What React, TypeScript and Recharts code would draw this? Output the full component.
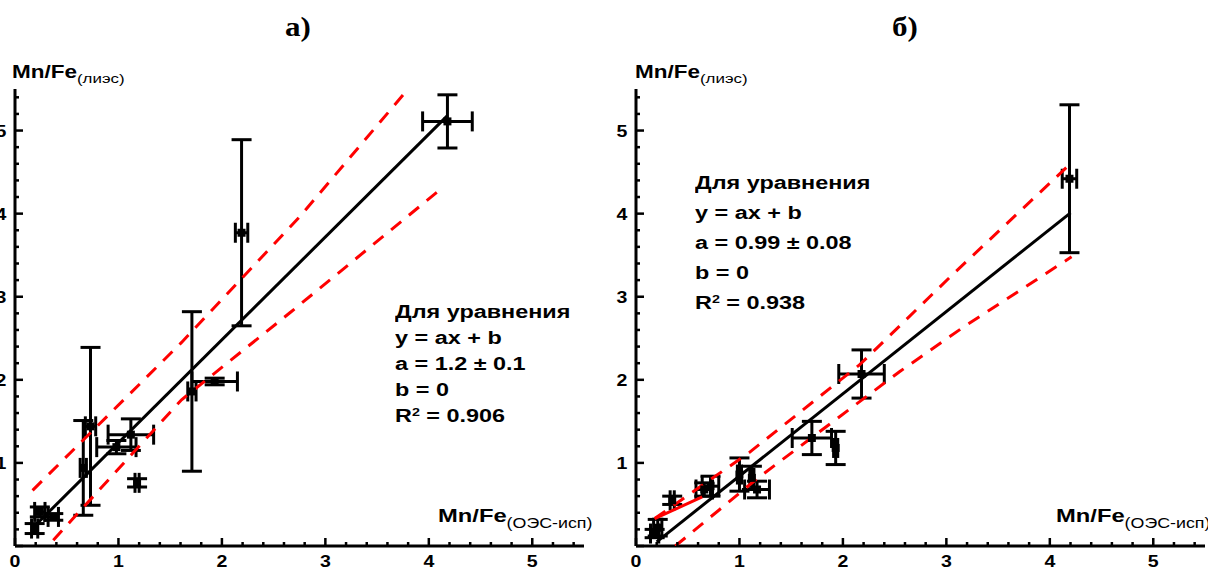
import React from 'react';
import { ScatterChart, Scatter, XAxis, YAxis, ZAxis, ErrorBar } from 'recharts';

// minor ticks every 0.2, labels on integers only
const axisTicks = [0, 0.2, 0.4, 0.6, 0.8, 1, 1.2, 1.4, 1.6, 1.8, 2, 2.2, 2.4, 2.6, 2.8, 3, 3.2, 3.4, 3.6, 3.8, 4, 4.2, 4.4, 4.6, 4.8, 5, 5.2, 5.4];
const xLabels = [0, 1, 2, 3, 4, 5];
const yLabels = [1, 2, 3, 4, 5];

// panel а) — points with errors
const pointsA = [
  { x: 0.19, y: 0.21, ex: 0.03, ey: 0.06 },
  { x: 0.24, y: 0.41, ex: 0.05, ey: 0.06 },
  { x: 0.37, y: 0.35, ex: 0.05, ey: 0.04 },
  { x: 0.66, y: 0.94, ex: 0.03, ey: 0.57 },
  { x: 0.73, y: 1.44, ex: 0.05, ey: 0.95 },
  { x: 0.98, y: 1.19, ex: 0.19, ey: 0.08 },
  { x: 1.12, y: 1.34, ex: 0.22, ey: 0.19 },
  { x: 1.18, y: 0.76, ex: 0.02, ey: 0.05 },
  { x: 1.71, y: 1.86, ex: 0.04, ey: 0.96 },
  { x: 1.93, y: 1.98, ex: 0.22, ey: 0.04 },
  { x: 2.19, y: 3.77, ex: 0.06, ey: 1.12 },
  { x: 4.18, y: 5.11, ex: 0.24, ey: 0.32 },
];
const fitA = [
  { x: 0.19, y: 0.24 },
  { x: 4.18, y: 5.18 },
];
const upperA = [
  { x: 0.17, y: 0.67 },
  { x: 1.61, y: 2.45 },
  { x: 2.75, y: 3.96 },
  { x: 3.8, y: 5.5 },
];
const lowerA = [
  { x: 0.37, y: 0.07 },
  { x: 1.61, y: 1.76 },
  { x: 2.66, y: 2.81 },
  { x: 4.15, y: 4.33 },
];

// panel б)
const pointsB = [
  { x: 0.18, y: 0.15, ex: 0.04, ey: 0.05 },
  { x: 0.21, y: 0.22, ex: 0.04, ey: 0.1 },
  { x: 0.35, y: 0.55, ex: 0.02, ey: 0.05 },
  { x: 0.66, y: 0.68, ex: 0.08, ey: 0.08 },
  { x: 0.72, y: 0.72, ex: 0.08, ey: 0.12 },
  { x: 1.0, y: 0.86, ex: 0.02, ey: 0.2 },
  { x: 1.12, y: 0.82, ex: 0.02, ey: 0.14 },
  { x: 1.17, y: 0.68, ex: 0.12, ey: 0.1 },
  { x: 1.7, y: 1.3, ex: 0.19, ey: 0.2 },
  { x: 1.93, y: 1.18, ex: 0.02, ey: 0.2 },
  { x: 2.18, y: 2.07, ex: 0.22, ey: 0.29 },
  { x: 4.19, y: 4.42, ex: 0.07, ey: 0.89 },
];
const fitB = [
  { x: 0.2, y: 0.05 },
  { x: 4.2, y: 4.01 },
];
const upperB = [
  { x: 0.18, y: 0.33 },
  { x: 1.1, y: 1.13 },
  { x: 2.16, y: 2.18 },
  { x: 3.08, y: 3.29 },
  { x: 4.19, y: 4.59 },
];
const lowerB = [
  { x: 0.38, y: 0.0 },
  { x: 1.18, y: 0.82 },
  { x: 2.55, y: 2.1 },
  { x: 3.16, y: 2.63 },
  { x: 4.21, y: 3.48 },
];
const redSegB = [
  { x: 0.18, y: 0.33 },
  { x: 0.64, y: 0.59 },
];

const sans = '"Liberation Sans", Arial, sans-serif';
const serif = '"Liberation Serif", "Times New Roman", serif';

const XTick = (props: any) => {
  const { x, y, payload } = props;
  const v = payload.value;
  const major = xLabels.includes(v);
  return (
    <g>
      <line x1={x} x2={x} y1={y} y2={y - (major ? 8 : 4)} stroke="#000" strokeWidth={2.5} />
      {major && (
        <text x={0} y={0} transform={`translate(${x},${y + 21}) scale(1.15,1)`} textAnchor="middle"
          fontFamily={sans} fontWeight="bold" fontSize={17} fill="#000">
          {v}
        </text>
      )}
    </g>
  );
};

const YTick = (props: any) => {
  const { x, y, payload } = props;
  const v = payload.value;
  const major = Number.isInteger(v);
  return (
    <g>
      <line x1={x} x2={x + (major ? 8 : 4)} y1={y} y2={y} stroke="#000" strokeWidth={2.5} />
      {yLabels.includes(v) && (
        <text x={0} y={0} transform={`translate(${x - 14},${y + 6}) scale(1.15,1)`} textAnchor="middle"
          fontFamily={sans} fontWeight="bold" fontSize={17} fill="#000">
          {v}
        </text>
      )}
    </g>
  );
};

const noDot = () => <g />;

function Panel({ points, fit, upper, lower, extra, width, axisWidth, marginRight }: any) {
  return (
    <ScatterChart width={width} height={571} margin={{ top: 89, right: marginRight, bottom: 1, left: 0 }}>
      <XAxis type="number" dataKey="x" domain={[0, 5.5]} ticks={axisTicks} interval={0} height={24}
        tickLine={false} tickSize={0} tickMargin={0} tick={<XTick />} allowDataOverflow
        axisLine={{ stroke: '#000', strokeWidth: 3 }} />
      <YAxis type="number" dataKey="y" domain={[0, 5.5]} ticks={axisTicks} interval={0} width={axisWidth}
        tickLine={false} tickSize={0} tickMargin={0} tick={<YTick />} allowDataOverflow
        axisLine={{ stroke: '#000', strokeWidth: 3 }} />
      <ZAxis type="number" range={[80, 80]} />
      <Scatter data={upper} shape={noDot} line={{ stroke: '#ff0000', strokeWidth: 3, strokeDasharray: '13 10' }} isAnimationActive={false} />
      <Scatter data={lower} shape={noDot} line={{ stroke: '#ff0000', strokeWidth: 3, strokeDasharray: '13 10' }} isAnimationActive={false} />
      {extra && (
        <Scatter data={extra} shape={noDot} line={{ stroke: '#ff0000', strokeWidth: 3 }} isAnimationActive={false} />
      )}
      <Scatter data={fit} shape={noDot} line={{ stroke: '#000', strokeWidth: 3 }} isAnimationActive={false} />
      <Scatter data={points} shape="square" fill="#000" isAnimationActive={false}>
        <ErrorBar dataKey="ey" direction="y" width={10} stroke="#000" strokeWidth={3} />
        <ErrorBar dataKey="ex" direction="x" width={10} stroke="#000" strokeWidth={3} />
      </Scatter>
    </ScatterChart>
  );
}

const abs = (left: number, top: number): React.CSSProperties => ({ position: 'absolute', left, top });

function AxisLabel({ left, top, sub, size }: { left: number; top: number; sub: string; size: number }) {
  return (
    <div style={{ ...abs(left, top), fontFamily: sans, whiteSpace: 'nowrap', transform: 'scaleX(1.25)', transformOrigin: 'left top', lineHeight: 1 }}>
      <span style={{ fontSize: size, fontWeight: 'bold' }}>Mn/Fe</span>
      <span style={{ fontSize: size * 0.75, position: 'relative', top: size * 0.3 }}>{sub}</span>
    </div>
  );
}

function Note({ left, top, lh, a, r2 }: { left: number; top: number; lh: number; a: string; r2: string }) {
  return (
    <div style={{ ...abs(left, top), fontFamily: sans, fontWeight: 'bold', fontSize: 18, lineHeight: `${lh}px`, whiteSpace: 'nowrap', transform: 'scaleX(1.3)', transformOrigin: 'left top' }}>
      <div>Для уравнения</div>
      <div>y = ax + b</div>
      <div>a = {a}</div>
      <div>b = 0</div>
      <div>
        R<sup style={{ fontSize: 11, verticalAlign: 'top', position: 'relative', top: -4 }}>2</sup> = {r2}
      </div>
    </div>
  );
}

export default function App() {
  return (
    <div style={{ position: 'absolute', left: 0, top: 0, width: 1208, height: 571, background: '#fff', overflow: 'hidden' }}>
      <div style={abs(0, 0)}>
        <Panel points={pointsA} fit={fitA} upper={upperA} lower={lowerA} width={600} axisWidth={15} marginRight={16} />
      </div>
      <div style={abs(600, 0)}>
        <Panel points={pointsB} fit={fitB} upper={upperB} lower={lowerB} extra={redSegB} width={608} axisWidth={36} marginRight={3} />
      </div>

      <div style={{ ...abs(298, 14), fontFamily: serif, fontWeight: 'bold', fontSize: 27, transform: 'translateX(-50%) scaleX(1.15)', lineHeight: 1 }}>а)</div>
      <div style={{ ...abs(905, 14), fontFamily: serif, fontWeight: 'bold', fontSize: 27, transform: 'translateX(-50%) scaleX(1.15)', lineHeight: 1 }}>б)</div>

      <AxisLabel left={12} top={63} sub="(лиэс)" size={18} />
      <AxisLabel left={635} top={63} sub="(лиэс)" size={18} />
      <AxisLabel left={438} top={506} sub="(ОЭС-исп)" size={19} />
      <AxisLabel left={1056} top={506} sub="(ОЭС-исп)" size={19} />

      <Note left={395} top={299} lh={26} a="1.2 ± 0.1" r2="0.906" />
      <Note left={695} top={168} lh={30} a="0.99 ± 0.08" r2="0.938" />
    </div>
  );
}
